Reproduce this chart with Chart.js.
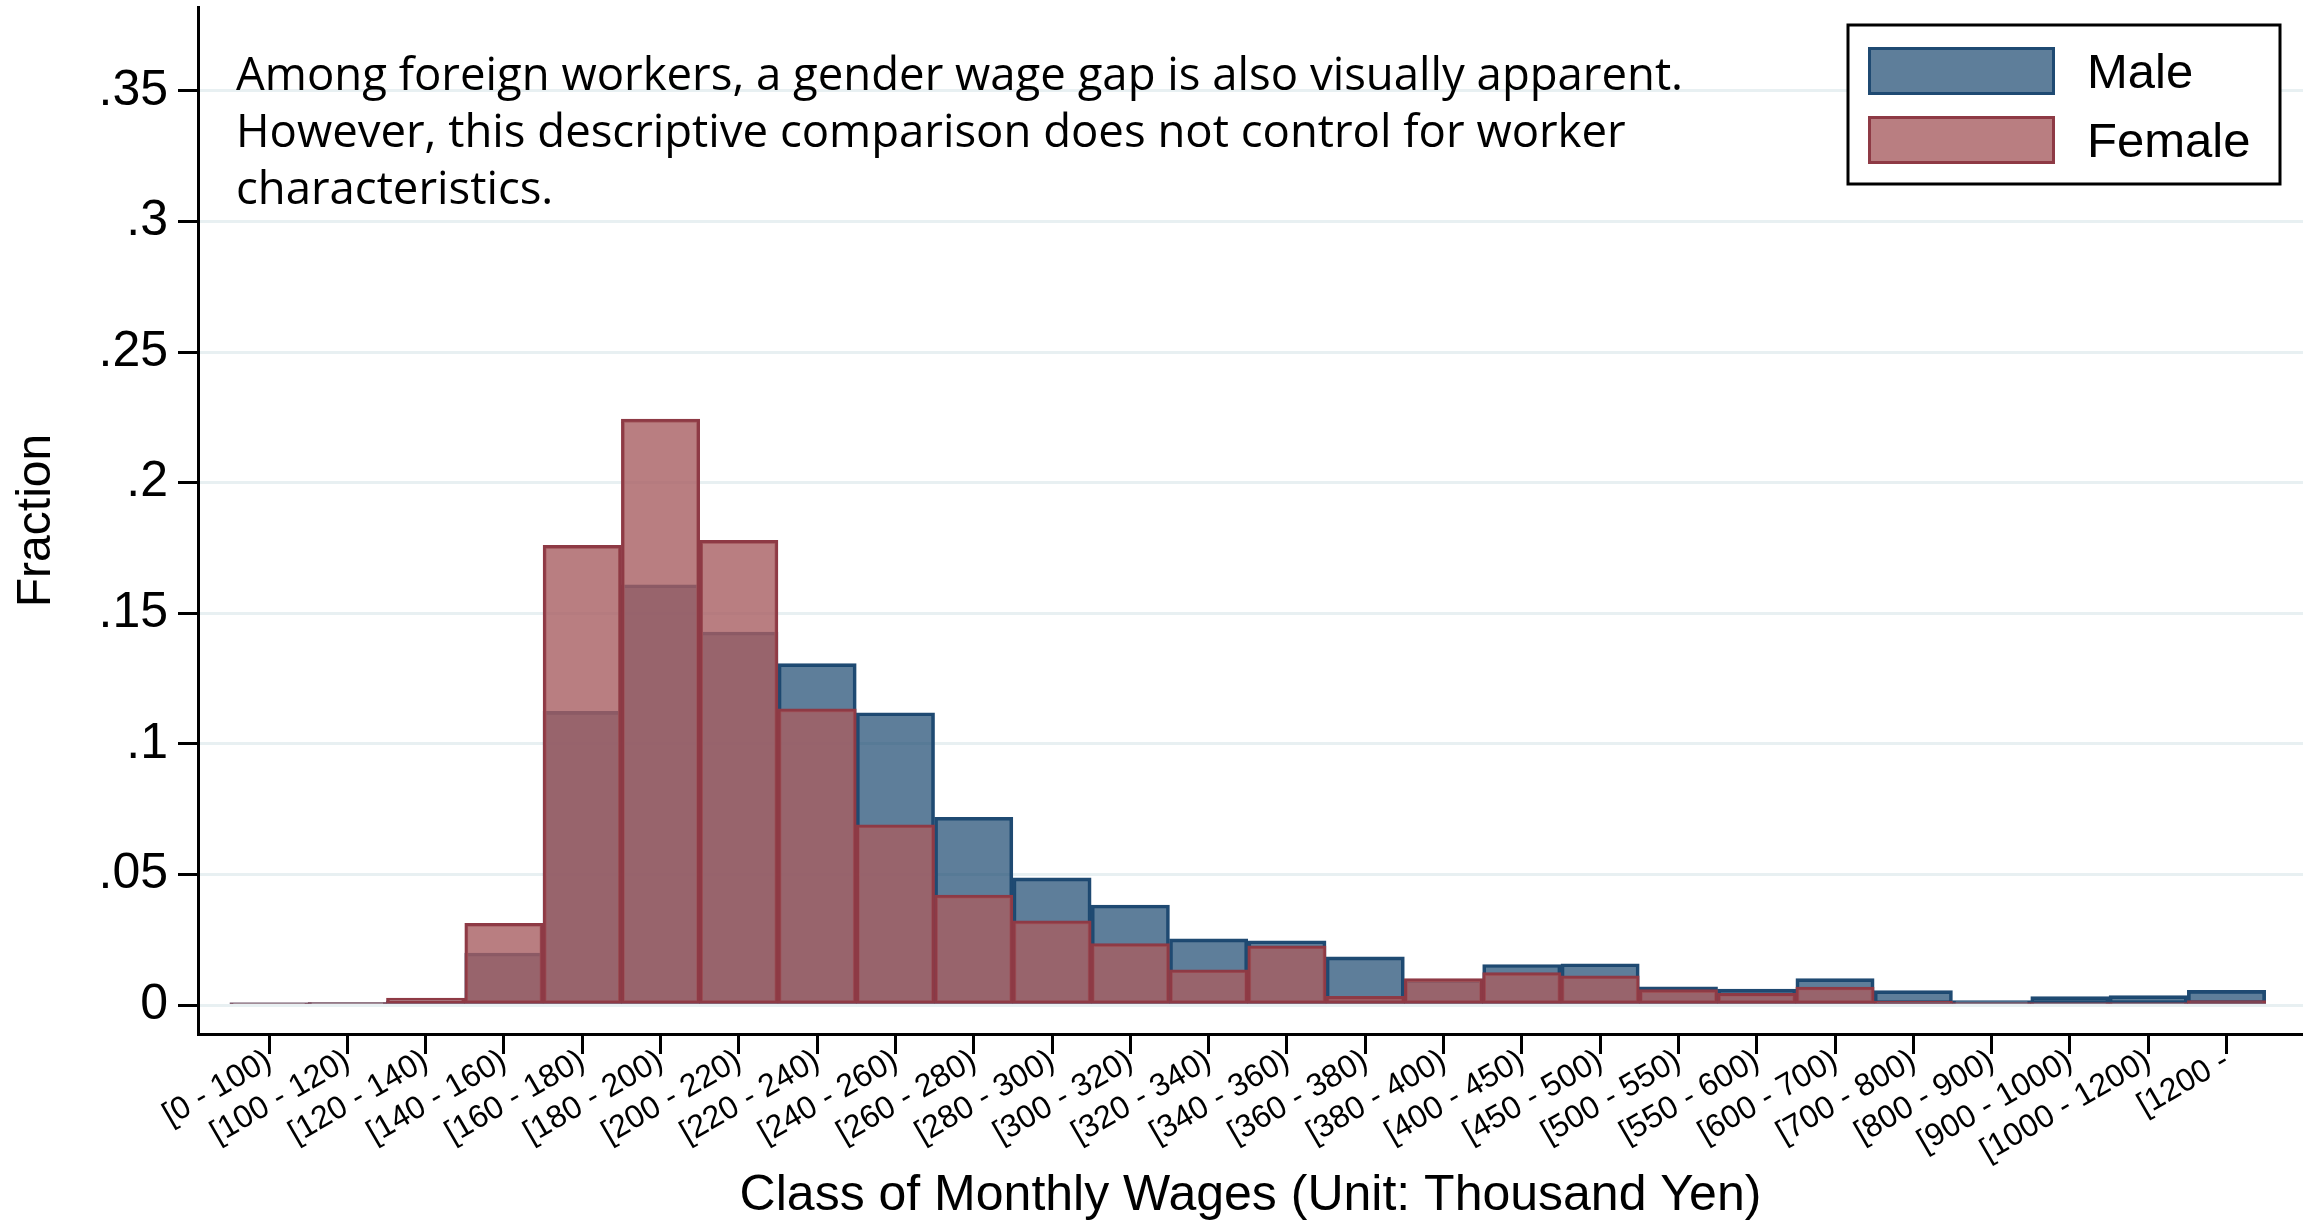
<!DOCTYPE html>
<html>
<head>
<meta charset="utf-8">
<script src="https://cdn.jsdelivr.net/npm/chart.js@4.4.1/dist/chart.umd.min.js"></script>
<style>
  html, body { margin: 0; padding: 0; background: #fff; }
</style>
</head>
<body>
<canvas id="wages-graphic" width="2303" height="1220"></canvas>
<script>
const categories = ['[0 - 100)', '[100 - 120)', '[120 - 140)', '[140 - 160)', '[160 - 180)', '[180 - 200)',
  '[200 - 220)', '[220 - 240)', '[240 - 260)', '[260 - 280)', '[280 - 300)', '[300 - 320)', '[320 - 340)',
  '[340 - 360)', '[360 - 380)', '[380 - 400)', '[400 - 450)', '[450 - 500)', '[500 - 550)', '[550 - 600)',
  '[600 - 700)', '[700 - 800)', '[800 - 900)', '[900 - 1000)', '[1000 - 1200)', '[1200 -'];

const maleShare = [0.0008, 0.0009, 0.0016, 0.0199, 0.1124, 0.1609, 0.1428, 0.1307, 0.1119, 0.0719,
  0.0487, 0.0383, 0.0253, 0.0246, 0.0184, 0.0097, 0.0155, 0.0158, 0.0070, 0.0061,
  0.0101, 0.0055, 0.0017, 0.0032, 0.0036, 0.0056];

const femaleShare = [0.0008, 0.0009, 0.0027, 0.0313, 0.1760, 0.2243, 0.1779, 0.1134, 0.0690, 0.0421,
  0.0322, 0.0235, 0.0135, 0.0227, 0.0033, 0.0101, 0.0124, 0.0112, 0.0059, 0.0045,
  0.0069, 0.0015, 0.0009, 0.0009, 0.0009, 0.0017];

const yTicks = [0, 0.05, 0.1, 0.15, 0.2, 0.25, 0.3, 0.35];
const yTickLabels = ['0', '.05', '.1', '.15', '.2', '.25', '.3', '.35'];

const note = [
  'Among foreign workers, a gender wage gap is also visually apparent.',
  'However, this descriptive comparison does not control for worker',
  'characteristics.'
];

Chart.defaults.font.family = '"Liberation Sans", Arial, sans-serif';
Chart.defaults.color = '#000';

// note text top left, boxed key top right
const noteAndKey = {
  id: 'noteAndKey',
  afterDraw(chart) {
    const ctx = chart.ctx;
    ctx.save();
    ctx.fillStyle = '#000';
    ctx.font = '45.5px "Open Sans"';
    ctx.textBaseline = 'alphabetic';
    note.forEach((line, i) => ctx.fillText(line, 236, 90 + i * 57));

    ctx.fillStyle = '#fff';
    ctx.fillRect(1848, 25, 432, 159);
    ctx.lineWidth = 3;
    ctx.strokeStyle = '#000';
    ctx.strokeRect(1848, 25, 432, 159);

    ctx.font = '49px "Liberation Sans"';
    chart.data.datasets.forEach((ds, i) => {
      const top = 47 + i * 69;
      ctx.fillStyle = ds.backgroundColor;
      ctx.fillRect(1868, top, 187, 48);
      ctx.strokeStyle = ds.borderColor;
      ctx.lineWidth = 3;
      ctx.strokeRect(1869.5, top + 1.5, 184, 45);
      ctx.fillStyle = '#000';
      ctx.fillText(ds.label, 2087, top + 41);
    });
    ctx.restore();
  }
};

new Chart(document.getElementById('wages-graphic'), {
  type: 'bar',
  data: {
    datasets: [{
      label: 'Male',
      data: maleShare.map((v, i) => ({ x: i, y: v })),
      backgroundColor: 'rgba(26, 71, 111, 0.70)',
      borderColor: '#1f4a72',
      order: 2
    }, {
      label: 'Female',
      data: femaleShare.map((v, i) => ({ x: i, y: v })),
      backgroundColor: 'rgba(167, 94, 98, 0.80)',
      borderColor: '#8e3a45',
      order: 1
    }]
  },
  options: {
    responsive: false,
    animation: false,
    datasets: {
      bar: {
        grouped: false,
        barPercentage: 1,
        categoryPercentage: 1,
        borderWidth: 3,
        borderSkipped: false
      }
    },
    layout: { padding: { top: 7, right: 0, bottom: 0, left: 0 } },
    plugins: {
      legend: { display: false },
      tooltip: { enabled: false }
    },
    scales: {
      x: {
        type: 'linear',
        offset: false,
        min: -0.907,
        max: 25.977,
        afterBuildTicks: scale => { scale.ticks = categories.map((c, i) => ({ value: i })); },
        afterFit: scale => {
          scale.height = 186;
          scale.paddingLeft = 0;
          scale.paddingRight = 0;
        },
        grid: { offset: false, drawOnChartArea: false, drawTicks: true, tickLength: 20, tickColor: '#000', tickWidth: 3 },
        border: { color: '#000', width: 3 },
        ticks: {
          autoSkip: false,
          maxRotation: 30,
          minRotation: 30,
          padding: -12,
          font: { size: 32 },
          callback: v => categories[v]
        },
        title: {
          display: true,
          text: 'Class of Monthly Wages (Unit: Thousand Yen)',
          font: { size: 50 },
          padding: { top: 0, bottom: -6 }
        }
      },
      y: {
        min: -0.0111,
        max: 0.3821,
        afterBuildTicks: scale => { scale.ticks = yTicks.map(v => ({ value: v })); },
        afterFit: scale => {
          scale.width = 198;
          scale.paddingTop = 0;
          scale.paddingBottom = 0;
        },
        grid: { color: '#e8f0f2', lineWidth: 3, tickColor: '#000', tickWidth: 3, tickLength: 20 },
        border: { color: '#000', width: 3 },
        ticks: {
          padding: 10,
          font: { size: 50 },
          callback: v => yTickLabels[yTicks.findIndex(t => Math.abs(t - v) < 1e-9)]
        },
        title: {
          display: true,
          text: 'Fraction',
          font: { size: 48 },
          padding: { top: 8, bottom: 0 }
        }
      }
    }
  },
  plugins: [noteAndKey]
});
</script>
</body>
</html>
